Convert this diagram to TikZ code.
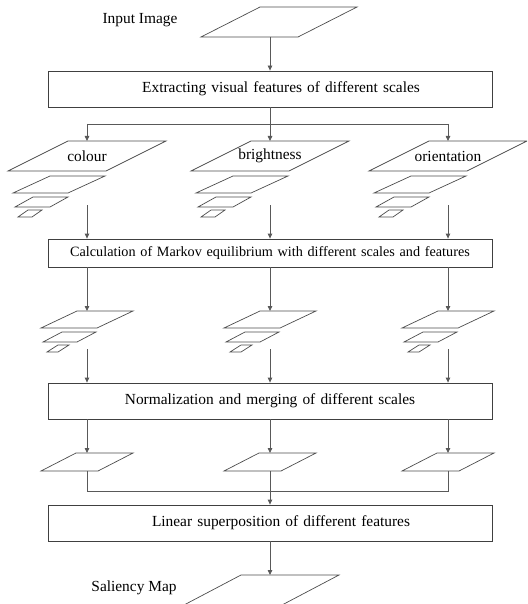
\documentclass[tikz,border=0pt]{standalone}
\usepackage{fontspec}
\setmainfont{Liberation Serif}
\usetikzlibrary{arrows.meta, positioning}

\tikzset{
    process/.style={draw=black!75, line width=0.8pt, text width=444pt, align=center, minimum height=36pt, inner sep=0pt},
    lbl/.style={inner sep=0pt},
    flow/.style={draw=black!65, line width=0.8pt, -{Triangle[length=5pt, width=4.5pt]}},
    wire/.style={draw=black!65, line width=0.8pt},
    sheet/.style={draw=black!70, line width=0.7pt},
}

\newcommand{\drawsheet}[5]{\draw[sheet] (#1,#2) -- ++(#3,0) -- ++(-#5,#4) -- ++(-#3,0) -- cycle;}

\newcommand{\featurestack}[3]{%
    \begin{scope}[xshift=#2pt]
        \drawsheet{-19}{141}{98}{30}{60}
        \drawsheet{-37}{176}{55}{17}{37}
        \drawsheet{-54}{197}{35}{10}{18}
        \drawsheet{-59}{210}{14}{7}{10}
        \node[lbl] (#1) at (0,156) {#3};
        \coordinate (#1_top) at (0,141);
        \coordinate (#1_bot) at (0,205);
    \end{scope}}

\newcommand{\scalestack}[2]{%
    \begin{scope}[xshift=#2pt]
        \drawsheet{-10}{311}{56}{17}{36}
        \drawsheet{-25}{332}{34}{10}{19}
        \drawsheet{-29}{345}{11}{7}{11}
        \coordinate (#1_top) at (0,311);
        \coordinate (#1_bot) at (0,349);
    \end{scope}}

\newcommand{\mergedsheet}[2]{%
    \begin{scope}[xshift=#2pt]
        \drawsheet{-11}{453}{57}{18}{35}
        \coordinate (#1_top) at (0,453);
        \coordinate (#1_bot) at (0,471);
    \end{scope}}

\begin{document}
\begin{tikzpicture}[x=1pt, y=-1pt, font=\fontsize{15.4}{18}\selectfont]

        \useasboundingbox (0,0) rectangle (527,604);
        \clip (0,0) rectangle (527,604);

        \drawsheet{260}{7}{97}{30}{59}
        \coordinate (input_bot) at (270,37);
        \node[lbl] (input_lbl) at (140,20) {Input Image};

        \node[process] (extract) at (270,89) {\hspace*{22pt}Extracting visual features of different scales};
        \coordinate (split) at (270,124);

        \featurestack{colour}{87}{colour}
        \featurestack{bright}{270}{brightness}
        \featurestack{orient}{448}{orientation}

        \node[process, minimum height=28pt, font=\fontsize{14.2}{17}\selectfont] (markov) at (270,253) {Calculation of Markov equilibrium with different scales and features};

        \scalestack{colour_sc}{87}
        \scalestack{bright_sc}{270}
        \scalestack{orient_sc}{448}

        \node[process] (norm_merge) at (270,401) {Normalization and merging of different scales};

        \mergedsheet{colour_mg}{87}
        \mergedsheet{bright_mg}{270}
        \mergedsheet{orient_mg}{448}

        \node[process] (lin_sup) at (270,523) {\hspace*{22pt}Linear superposition of different features};

        \drawsheet{241}{575}{98}{30}{57}
        \coordinate (saliency_top) at (270,575);
        \node[lbl] (saliency_lbl) at (134,588) {Saliency Map};

        \draw[flow] (input_bot) -- (extract.north);
        \draw[wire] (extract.south) -- (split);
        \draw[wire] (split -| colour_top) -- (split -| orient_top);
        \draw[flow] (split -| colour_top) -- (colour_top);
        \draw[flow] (split) -- (bright_top);
        \draw[flow] (split -| orient_top) -- (orient_top);

        \draw[flow] (colour_bot) -- (markov.north -| colour_bot);
        \draw[flow] (bright_bot) -- (markov.north);
        \draw[flow] (orient_bot) -- (markov.north -| orient_bot);

        \draw[flow] (markov.south -| colour_sc_top) -- (colour_sc_top);
        \draw[flow] (markov.south) -- (bright_sc_top);
        \draw[flow] (markov.south -| orient_sc_top) -- (orient_sc_top);

        \draw[flow] (colour_sc_bot) -- (norm_merge.north -| colour_sc_bot);
        \draw[flow] (bright_sc_bot) -- (norm_merge.north);
        \draw[flow] (orient_sc_bot) -- (norm_merge.north -| orient_sc_bot);

        \draw[flow] (norm_merge.south -| colour_mg_top) -- (colour_mg_top);
        \draw[flow] (norm_merge.south) -- (bright_mg_top);
        \draw[flow] (norm_merge.south -| orient_mg_top) -- (orient_mg_top);

        \draw[wire] (colour_mg_bot) -- ++(0,20) -| (orient_mg_bot);
        \draw[flow] (bright_mg_bot) -- (lin_sup.north);

        \draw[flow] (lin_sup.south) -- (saliency_top);

\end{tikzpicture}
\end{document}
